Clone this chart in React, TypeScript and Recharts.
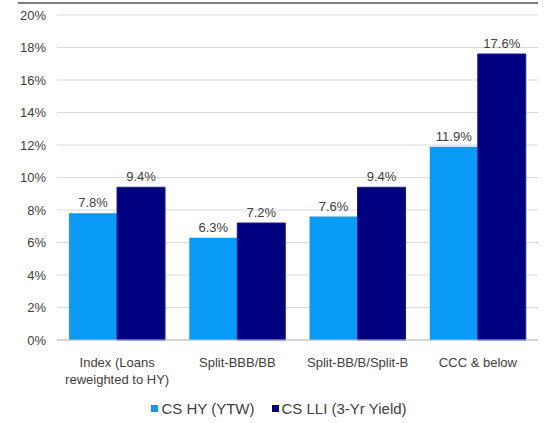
import React from 'react';
import { BarChart, Bar, XAxis, YAxis, CartesianGrid, Legend, LabelList } from 'recharts';

const categories: string[][] = [
  ['Index (Loans', 'reweighted to HY)'],
  ['Split-BBB/BB'],
  ['Split-BB/B/Split-B'],
  ['CCC & below'],
];
const hyValues = [7.8, 6.3, 7.6, 11.9];
const lliValues = [9.4, 7.2, 9.4, 17.6];
const yTicks = [0, 2, 4, 6, 8, 10, 12, 14, 16, 18, 20];
const seriesNames = ['CS HY (YTW)', 'CS LLI (3-Yr Yield)'];

const data = categories.map((c, i) => ({ name: c.join('\n'), hy: hyValues[i], lli: lliValues[i] }));

const FONT = '"Liberation Sans", Arial, sans-serif';
const TEXT = '#404040';

const CatTick = (props: any) => {
  const { x, y, payload } = props;
  const lines = String(payload.value).split('\n');
  return (
    <g transform={`translate(${x},${y})`}>
      {lines.map((l, i) => (
        <text key={i} x={0} y={0} dy={19 + i * 17} textAnchor="middle" fill={TEXT} fontSize={13} fontFamily={FONT}>
          {l}
        </text>
      ))}
    </g>
  );
};

const LegendContent = (props: any) => {
  const items = props.payload || [];
  return (
    <div style={{ display: 'flex', justifyContent: 'center', paddingTop: 17, paddingLeft: 20, fontFamily: FONT, fontSize: 15, color: TEXT }}>
      {items.map((it: any, i: number) => (
        <div key={i} style={{ display: 'flex', alignItems: 'center', marginRight: i === 0 ? 17 : 0 }}>
          <span style={{ display: 'inline-block', width: 7, height: 7, background: it.color, marginRight: 3 }} />
          <span>{it.value}</span>
        </div>
      ))}
    </div>
  );
};

export default function App() {
  return (
    <div style={{ position: 'absolute', left: 0, top: 0, width: 544, height: 423, background: '#fff' }}>
      <div style={{ position: 'absolute', left: 18, top: 2, width: 520, height: 0, borderTop: '2px solid #7f7f7f' }} />
      <BarChart
        width={544}
        height={423}
        data={data}
        margin={{ top: 15, right: 6, left: 0, bottom: 0 }}
        barCategoryGap="10%"
        barGap={0}
      >
        <CartesianGrid vertical={false} stroke="#d9d9d9" />
        <XAxis
          dataKey="name"
          tick={<CatTick />}
          tickLine={false}
          axisLine={{ stroke: '#bfbfbf' }}
          height={43}
          interval={0}
        />
        <YAxis
          domain={[0, 20]}
          ticks={yTicks}
          tickFormatter={(v: number) => `${v}%`}
          tickLine={false}
          axisLine={false}
          tickSize={0}
          tickMargin={11}
          width={57}
          tick={{ fill: TEXT, fontSize: 13, fontFamily: FONT }}
        />
        <Legend verticalAlign="bottom" height={40} content={<LegendContent />} />
        <Bar dataKey="hy" name={seriesNames[0]} fill="#0A9BF7" isAnimationActive={false}>
          <LabelList dataKey="hy" position="top" offset={6} formatter={(v: any) => `${Number(v).toFixed(1)}%`} fill={TEXT} fontSize={13} fontFamily={FONT} />
        </Bar>
        <Bar dataKey="lli" name={seriesNames[1]} fill="#000080" stroke="#1a1a9a" strokeWidth={1} isAnimationActive={false}>
          <LabelList dataKey="lli" position="top" offset={6} formatter={(v: any) => `${Number(v).toFixed(1)}%`} fill={TEXT} fontSize={13} fontFamily={FONT} />
        </Bar>
      </BarChart>
    </div>
  );
}
